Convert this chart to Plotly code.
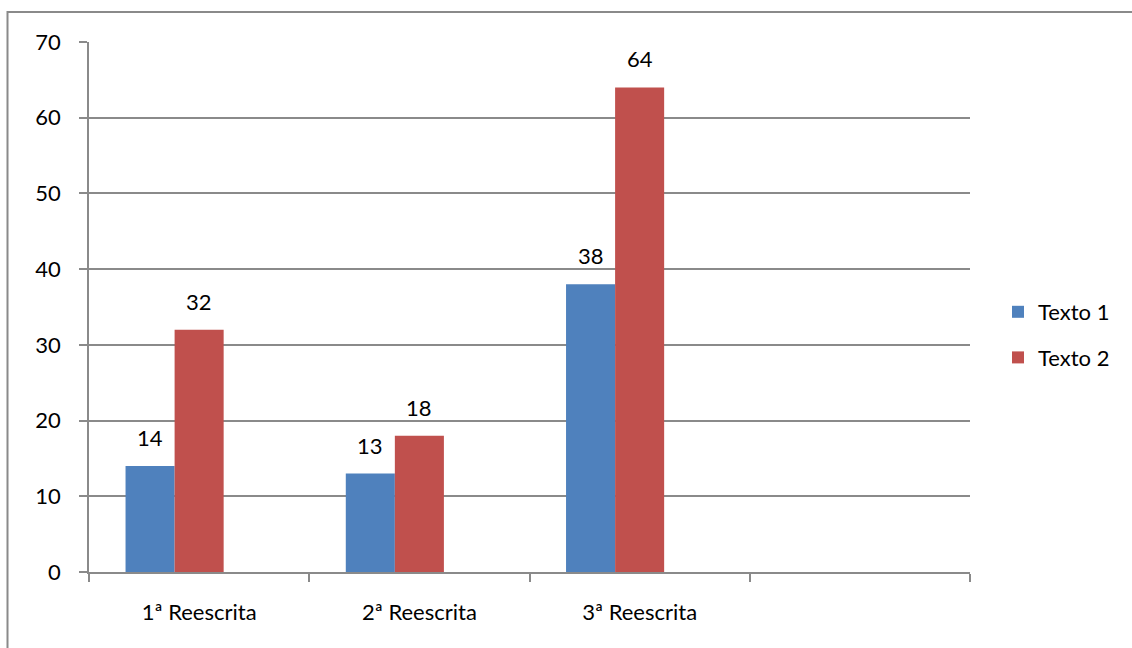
import plotly.graph_objects as go

categories = ["1ª Reescrita", "2ª Reescrita", "3ª Reescrita", " "]
texto1 = [14, 13, 38]
texto2 = [32, 18, 64]
series_names = ["Texto 1", "Texto 2"]
colors = ["#4F81BD", "#C0504D"]
yticks = [0, 10, 20, 30, 40, 50, 60, 70]

FONT = "Lato"
FS = 22
GRAY = "#8a8a8a"

# Excel-style cluster of three slots (third series empty)
BW = 49 / 220
offsets = [-1.5 * BW, -0.5 * BW]

fig = go.Figure()
for k, (name, vals, col) in enumerate(zip(series_names, [texto1, texto2], colors)):
    fig.add_trace(go.Bar(x=categories[:len(vals)], y=vals, name=name,
                         width=BW, offset=offsets[k], legendgroup=name,
                         marker=dict(color=col, line=dict(width=0))))

# data labels
for vals, off in zip([texto1, texto2], offsets):
    shift = (off + BW / 2) * 220
    for c, v in zip(categories, vals):
        fig.add_annotation(x=c, y=v, text=str(v), showarrow=False,
                           xshift=shift, yshift=13, yanchor="bottom",
                           font=dict(family=FONT, size=FS, color="black"))

W, H = 1132, 648
L, R, T, B = 89, 162, 42, 76
pw, ph = W - L - R, H - T - B
# outer chart frame
fig.add_shape(type="rect", xref="paper", yref="paper",
              x0=(7.5 - L) / pw, x1=(W + 5 - L) / pw,
              y0=(H - B - (H + 5)) / ph, y1=(H - B - 12) / ph,
              line=dict(color=GRAY, width=2), layer="below")

fig.update_layout(
    width=W, height=H,
    margin=dict(l=L, r=R, t=T, b=B),
    paper_bgcolor="white", plot_bgcolor="white",
    barmode="overlay",
    font=dict(family=FONT, size=FS, color="black"),
    showlegend=True,
    legend=dict(x=(998 - L) / pw, xanchor="left", y=(H - B - 335) / ph, yanchor="middle",
                font=dict(family=FONT, size=FS), itemwidth=30, tracegroupgap=14,
                bgcolor="rgba(0,0,0,0)"),
    xaxis=dict(type="category", categoryorder="array", categoryarray=categories,
               range=[-0.5, 3.5], tickson="boundaries", ticks="outside", ticklen=8,
               tickcolor=GRAY, tickwidth=1.5, showline=True, linecolor=GRAY, linewidth=1.5,
               showgrid=False, ticklabelstandoff=20, fixedrange=True),
    yaxis=dict(range=[0, 70], tickvals=yticks, ticks="outside", ticklen=8,
               tickcolor=GRAY, tickwidth=1.5, showline=True, linecolor=GRAY, linewidth=1.5,
               showgrid=True, gridcolor=GRAY, gridwidth=1.5, zeroline=False,
               ticklabelstandoff=14, fixedrange=True),
)

fig.write_html("out.html")
